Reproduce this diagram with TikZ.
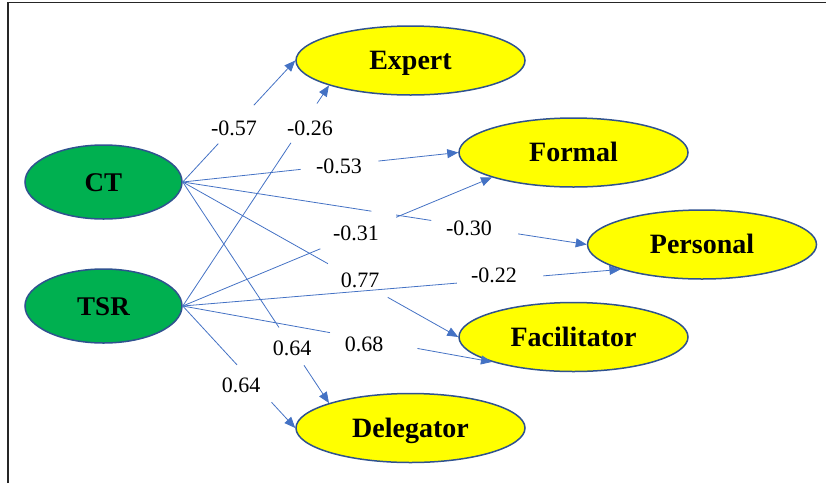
\documentclass[tikz,border=0pt]{standalone}
\usepackage{fontspec}
\setmainfont{Liberation Serif}
\usetikzlibrary{shapes.geometric,arrows.meta}
\definecolor{lineblue}{HTML}{4472C4}
\definecolor{rimblue}{HTML}{2F528F}
\definecolor{fillgreen}{HTML}{00B050}
\definecolor{fillyellow}{HTML}{FFFF00}
\tikzset{
  srcnode/.style={ellipse, draw=rimblue, line width=1.5pt, fill=fillgreen, minimum width=157pt, minimum height=74pt, inner sep=0pt, text height=18pt, text depth=0pt, font=\fontsize{27}{30}\selectfont\bfseries},
  tgtnode/.style={ellipse, draw=rimblue, line width=1.5pt, fill=fillyellow, minimum width=229pt, minimum height=69pt, inner sep=0pt, text height=18.5pt, text depth=0pt, font=\fontsize{28}{30}\selectfont\bfseries},
  coef/.style={inner sep=0pt, font=\fontsize{22}{24}\selectfont},
  edge/.style={draw=lineblue, line width=0.8pt},
  tip/.style={edge, -{Triangle[length=11pt,width=9pt]}},
  frame/.style={draw=black!85, line width=1.6pt}
}
\begin{document}
\begin{tikzpicture}[x=1pt,y=-1pt]
\useasboundingbox (0,0) rectangle (826,483);
\draw[frame] (8,483) -- (8,2.5) -- (826,2.5);

\node[srcnode] (CT) at (103.5,182) {CT};
\node[srcnode] (TSR) at (103.5,306) {TSR};
\node[tgtnode] (Expert) at (410.5,60.5) {Expert};
\node[tgtnode] (Formal) at (573.5,152.5) {Formal};
\node[tgtnode] (Personal) at (702,244.5) {Personal};
\node[tgtnode] (Facilitator) at (573.5,337) {Facilitator};
\node[tgtnode] (Delegator) at (410.5,428) {Delegator};

% gap points along each connector
\path (CT.east) -- (Expert.west) coordinate[pos=0.316] (e1a) coordinate[pos=0.632] (e1b);
\path (TSR.east) -- (Expert.197) coordinate[pos=0.74] (e2a) coordinate[pos=0.918] (e2b);
\path (CT.east) -- (Formal.west) coordinate[pos=0.428] (e3a) coordinate[pos=0.71] (e3b);
\path (TSR.east) -- (Formal.197) coordinate[pos=0.445] (e4a) coordinate[pos=0.69] (e4b);
\path (CT.east) -- (Personal.west) coordinate[pos=0.467] (e5a) coordinate[pos=0.528] (e5b)
      coordinate[pos=0.615] (e5c) coordinate[pos=0.83] (e5d);
\path (CT.east) -- (Facilitator.west) coordinate[pos=0.527] (e6a) coordinate[pos=0.744] (e6b);
\path (TSR.east) -- (Personal.197) coordinate[pos=0.626] (e7a) coordinate[pos=0.824] (e7b);
\path (TSR.east) -- (Facilitator.197) coordinate[pos=0.476] (e8a) coordinate[pos=0.759] (e8b);
\path (CT.east) -- (Delegator.163) coordinate[pos=0.658] (e9a) coordinate[pos=0.829] (e9b);
\path (TSR.east) -- (Delegator.west) coordinate[pos=0.482] (e10a) coordinate[pos=0.789] (e10b);

% connectors
\draw[edge] (CT.east) -- (e1a);   \draw[tip] (e1b) -- (Expert.west);
\draw[edge] (TSR.east) -- (e2a);  \draw[tip] (e2b) -- (Expert.197);
\draw[edge] (CT.east) -- (e3a);   \draw[tip] (e3b) -- (Formal.west);
\draw[edge] (TSR.east) -- (e4a);  \draw[tip] (e4b) -- (Formal.197);
\draw[edge] (CT.east) -- (e5a);   \draw[edge] (e5b) -- (e5c);  \draw[tip] (e5d) -- (Personal.west);
\draw[edge] (CT.east) -- (e6a);   \draw[tip] (e6b) -- (Facilitator.west);
\draw[edge] (TSR.east) -- (e7a);  \draw[tip] (e7b) -- (Personal.197);
\draw[edge] (TSR.east) -- (e8a);  \draw[tip] (e8b) -- (Facilitator.197);
\draw[edge] (CT.east) -- (e9a);   \draw[tip] (e9b) -- (Delegator.163);
\draw[edge] (TSR.east) -- (e10a); \draw[tip] (e10b) -- (Delegator.west);

% coefficients
\node[coef] (l1) at (234,128) {-0.57};
\node[coef] (l2) at (310,128) {-0.26};
\node[coef] (l3) at (339,166) {-0.53};
\node[coef] (l4) at (356,233) {-0.31};
\node[coef] (l5) at (469,228) {-0.30};
\node[coef] (l6) at (360,280) {0.77};
\node[coef] (l7) at (494,275) {-0.22};
\node[coef] (l8) at (364,344) {0.68};
\node[coef] (l9) at (292,348) {0.64};
\node[coef] (l10) at (241,385) {0.64};
\end{tikzpicture}
\end{document}
